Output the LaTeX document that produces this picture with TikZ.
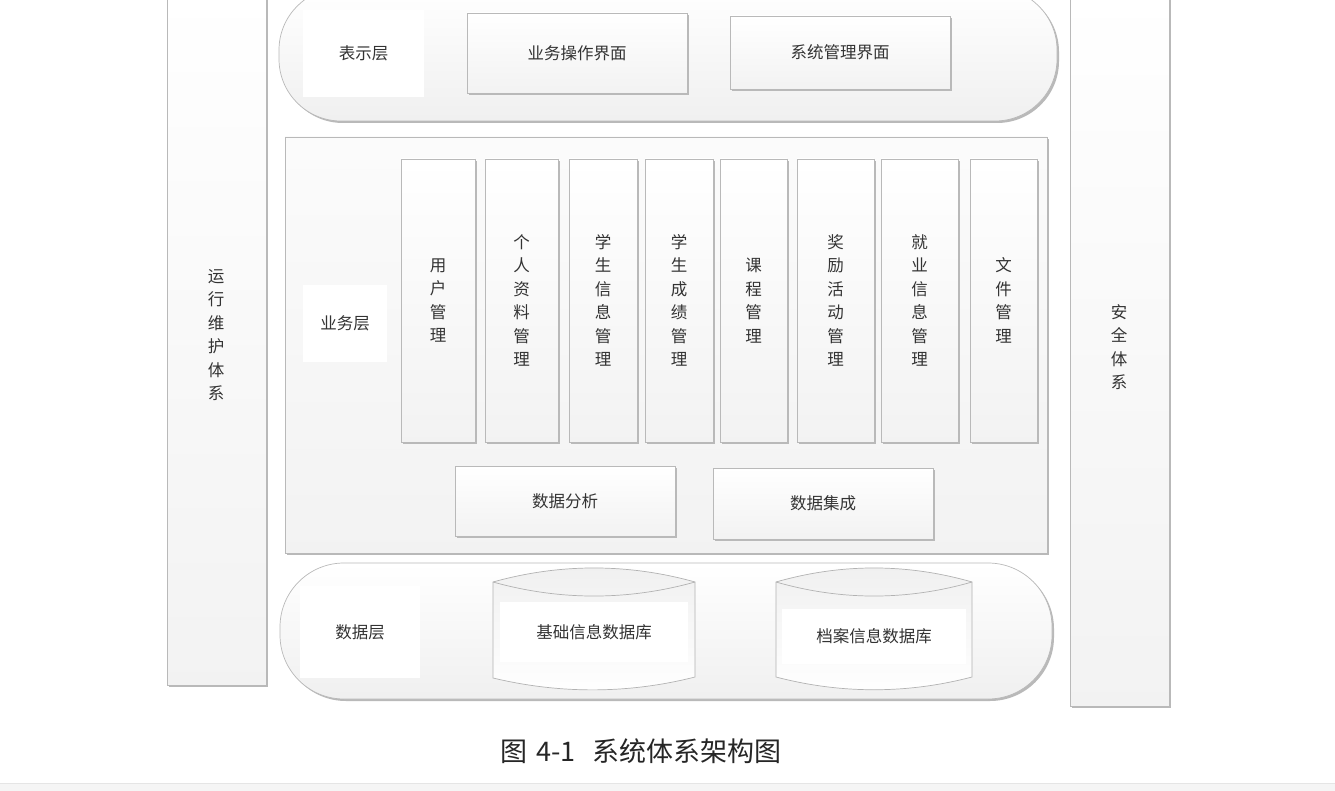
\documentclass[tikz,border=0pt]{standalone}
\usepackage{fontspec}
\setmainfont{Noto Sans CJK SC}
\usetikzlibrary{shadows}
\begin{document}
\begin{tikzpicture}[x=1pt,y=-1pt,
  every node/.style={font=\fontsize{16.5}{23.5}\selectfont, text=black!80, inner sep=0pt},
  shd/.style={drop shadow={shadow xshift=2pt, shadow yshift=-2pt, fill=gray!55, opacity=1}},
  box/.style={draw=gray!55, line width=0.7pt, top color=white, bottom color=gray!10, shd, align=center},
  stadium/.style={box, top color=white, bottom color=gray!12},
  lbl/.style={fill=white, align=center},
  vbox/.style={box, minimum width=#1, minimum height=283},
  db/.style={draw=gray!60, line width=0.7pt, top color=gray!12, bottom color=white}
]
\useasboundingbox (0,0) rectangle (1335,791);
\fill[white] (0,0) rectangle (1335,791);
\fill[gray!8] (0,783) rectangle (1335,791);
\draw[gray!20] (0,783) -- (1335,783);

% side bars
\node[box, minimum width=99, minimum height=695] (ops) at (216.5,337.5) {};
\node[align=center] at (216,335) (opst) {运\\行\\维\\护\\体\\系};
\node[box, minimum width=99, minimum height=716] (sec) at (1119.5,348) {};
\node[align=center] at (1119,347) (sect) {安\\全\\体\\系};

% presentation layer
\node[stadium, rounded corners=62, minimum width=778, minimum height=133] (pres) at (668,54.5) {};
\node[lbl, minimum width=121, minimum height=87] (presl) at (363.5,53.5) {表示层};
\node[box, minimum width=220, minimum height=80] (ui1) at (577,53) {业务操作界面};
\node[box, minimum width=220, minimum height=73] (ui2) at (840,52.5) {系统管理界面};

% business layer
\node[box, minimum width=762, minimum height=416, top color=gray!3, bottom color=gray!10] (biz) at (666,345) {};
\node[lbl, minimum width=84, minimum height=77] (bizl) at (345,323.5) {业务层};
\node[vbox=74] (m1) at (438,300.5) {用\\户\\管\\理};
\node[vbox=73] (m2) at (521.5,300.5) {个\\人\\资\\料\\管\\理};
\node[vbox=68] (m3) at (603,300.5) {学\\生\\信\\息\\管\\理};
\node[vbox=68] (m4) at (679,300.5) {学\\生\\成\\绩\\管\\理};
\node[vbox=67] (m5) at (753.5,300.5) {课\\程\\管\\理};
\node[vbox=77] (m6) at (835.5,300.5) {奖\\励\\活\\动\\管\\理};
\node[vbox=77] (m7) at (919.5,300.5) {就\\业\\信\\息\\管\\理};
\node[vbox=67] (m8) at (1003.5,300.5) {文\\件\\管\\理};
\node[box, minimum width=220, minimum height=70] (ana) at (565,501) {数据分析};
\node[box, minimum width=220, minimum height=71] (integ) at (823,503.5) {数据集成};

% data layer
\node[stadium, rounded corners=64, minimum width=772, minimum height=136] (data) at (666,631) {};
\node[lbl, minimum width=120, minimum height=92] (datal) at (360,632) {数据层};

% database 1
\path[db] (493,582) .. controls (560,563.3) and (628,563.3) .. (695,582)
  -- (695,677) .. controls (628,694) and (560,694) .. (493,678) -- cycle;
\draw[gray!60, line width=0.7pt] (493,582) .. controls (560,600.7) and (628,600.7) .. (695,582);
\node[lbl, minimum width=188, minimum height=60] (db1) at (594,632) {基础信息数据库};

% database 2
\path[db] (776,582) .. controls (841,563.3) and (907,563.3) .. (972,582)
  -- (972,677) .. controls (907,694) and (841,694) .. (776,677) -- cycle;
\draw[gray!60, line width=0.7pt] (776,582) .. controls (841,600.7) and (907,600.7) .. (972,582);
\node[lbl, minimum width=184, minimum height=55] (db2) at (874,636.5) {档案信息数据库};

% caption
\node[font=\fontsize{27}{31}\selectfont, text=black!85] (cap) at (641,751) {图\hspace{9pt}4-1\hspace{17pt}系统体系架构图};
\end{tikzpicture}
\end{document}
